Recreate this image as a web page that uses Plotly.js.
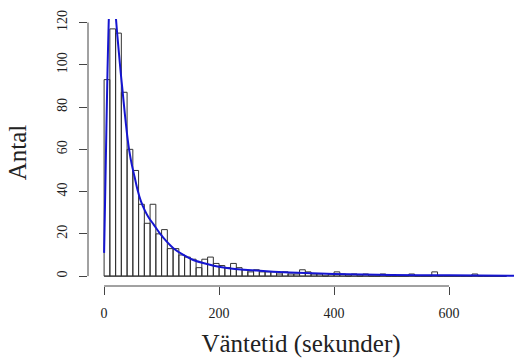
<!DOCTYPE html>
<html>
<head>
<meta charset="utf-8">
<script src="https://cdn.plot.ly/plotly-3.0.1.min.js"></script>
<style>html,body{margin:0;padding:0;background:#fff;}#chart{width:514px;height:363px;}</style>
</head>
<body>
<div id="chart"></div>
<script>
// Histogram: bin width 10 seconds, bins starting at 0
const binWidth = 10;
const counts = [93,117,115,87,60,50,34,25,34,20,
                22,13,13,10,9,8,4,8,9,6,
                5,4,6,4,3,2,3,2,2,2,
                1,2,1,1,3,2,1,1,0,1,
                2,1,0,1,0,1,0,0,1,0,
                0,0,0,1,0,0,0,2,0,0,
                0,0,0,0,1,0,0,0,0,0];
// Fitted density curve (scaled to counts)
const curveX = [0,2,4,6,8,10,12,14,16,18,20,23,26,29,32,36,40,44,48,53,58,64,71,78,86,97,109,121,138,155,179,202,220,265,323,400,500,600,713];
const curveY = [11,40,70,98,120,133,139,140,137,131,124,114,105,96,88,77,67,59,53,47,41,35.5,31,27.5,24.5,20.2,16.3,13.1,10,7.6,5.7,4.3,3.6,2.6,1.7,1.0,0.55,0.35,0.2];
const xTicks = [0,200,400,600];
const yTicks = [0,20,40,60,80,100,120];
const xTitle = 'Väntetid (sekunder)';
const yTitle = 'Antal';

const centers = counts.map((c,i)=> i*binWidth + binWidth/2);
const lastBreak = counts.length*binWidth;

const font = 'Liberation Serif, Times New Roman, serif';
const traces = [
  {type:'bar', x:centers, y:counts, width:binWidth,
   marker:{color:'rgba(255,255,255,0)', line:{color:'#333', width:1}},
   hoverinfo:'skip'},
  {type:'scatter', mode:'lines', x:curveX, y:curveY,
   line:{color:'#1515d0', width:2, shape:'spline', smoothing:0.6}, cliponaxis:true}
];
const layout = {
  width:514, height:363, showlegend:false,
  paper_bgcolor:'#fff', plot_bgcolor:'#fff',
  margin:{l:88, r:0, t:19, b:77},
  bargap:0,
  font:{family:font, color:'#222', size:14},
  xaxis:{range:[-28,713], tickmode:'array', tickvals:xTicks, ticktext:xTicks.map(String),
         ticks:'outside', ticklen:8, tickcolor:'#444', tickwidth:1,
         showgrid:false, zeroline:false, showline:false, ticklabelstandoff:6,
         tickfont:{family:font, size:14, color:'#222'},
         title:{text:xTitle, font:{family:font, size:25, color:'#222'}, standoff:14}},
  yaxis:{range:[-4.68,121.68], tickmode:'array', tickvals:yTicks, ticktext:yTicks.map(String),
         ticks:'outside', ticklen:8, tickcolor:'#444', tickwidth:1, tickangle:-90,
         showgrid:false, zeroline:false, showline:false, ticklabelstandoff:6,
         tickfont:{family:font, size:14, color:'#222'},
         title:{text:yTitle, font:{family:font, size:25, color:'#222'}, standoff:21}},
  shapes:[
    {type:'line', xref:'x', yref:'paper', x0:xTicks[0], x1:xTicks[xTicks.length-1], y0:0, y1:0, line:{color:'#444', width:1}},
    {type:'line', xref:'paper', yref:'y', x0:0, x1:0, y0:yTicks[0], y1:yTicks[yTicks.length-1], line:{color:'#444', width:1}},
    {type:'line', xref:'x', yref:'y', x0:0, x1:lastBreak, y0:0, y1:0, line:{color:'#333', width:1}, layer:'below'}
  ]
};
Plotly.newPlot('chart', traces, layout, {staticPlot:true, displayModeBar:false});
</script>
</body>
</html>
